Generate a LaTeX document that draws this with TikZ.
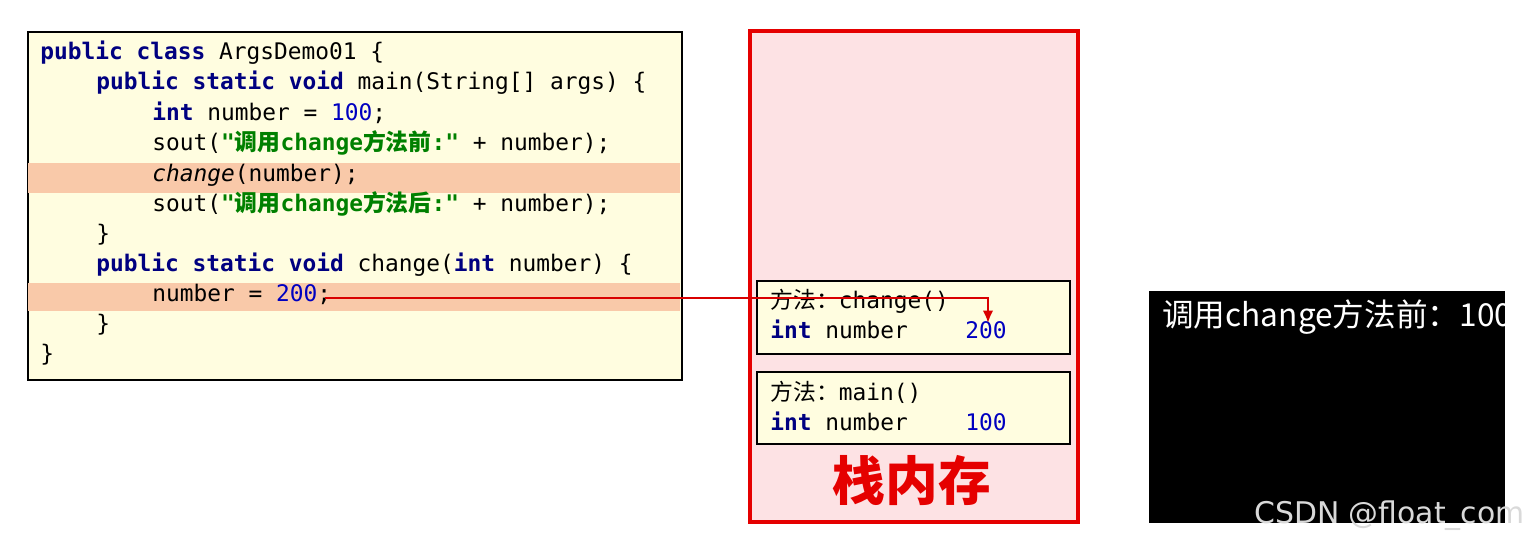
\documentclass[tikz,border=0pt]{standalone}
\usepackage{fontspec}
\usetikzlibrary{arrows.meta}
\newfontfamily\code{DejaVu Sans Mono}
\newfontfamily\cjk{Noto Sans CJK SC}
\definecolor{kw}{HTML}{000080}
\definecolor{num}{HTML}{0000C0}
\definecolor{str}{HTML}{008000}
\definecolor{codebg}{HTML}{FFFDE0}
\definecolor{hl}{HTML}{F9C9A9}
\definecolor{stackbg}{HTML}{FDE2E4}
\newcommand{\kw}[1]{\textcolor{kw}{\bfseries #1}}
\newcommand{\nm}[1]{\textcolor{num}{#1}}
\newcommand{\st}[1]{\textcolor{str}{\bfseries #1}}
\begin{document}
\begin{tikzpicture}[x=0.02cm,y=-0.02cm,
  ln/.style={anchor=base west,inner sep=0pt,font=\code\fontsize{13}{15}\selectfont},
  fr/.style={draw=black,line width=1pt,fill=codebg}]
\useasboundingbox (0,0) rectangle (1530,543);
% code box
\node[fr,minimum width=654*0.02cm,minimum height=348*0.02cm,anchor=north west,inner sep=0pt] (codebox) at (27,31) {};
\fill[hl] (28,163) rectangle (680,193);
\fill[hl] (28,283) rectangle (680,311);
\node[ln] (l1) at (40,60) {\kw{public} \kw{class} ArgsDemo01 \{};
\node[ln] (l2) at (96,90) {\kw{public} \kw{static} \kw{void} main(String[] args) \{};
\node[ln] (l3) at (152,121) {\kw{int} number = \nm{100};};
\node[ln] (l4) at (152,151) {sout(\st{"{\cjk 调用}change{\cjk 方法前}:"} + number);};
\node[ln] (l5) at (152,182) {\textit{change}(number);};
\node[ln] (l6) at (152,212) {sout(\st{"{\cjk 调用}change{\cjk 方法后}:"} + number);};
\node[ln] (l7) at (96,242) {\}};
\node[ln] (l8) at (96,272) {\kw{public} \kw{static} \kw{void} change(\kw{int} number) \{};
\node[ln] (l9) at (152,302) {number = \nm{200};};
\node[ln] (l10) at (96,332) {\}};
\node[ln] (l11) at (40,362) {\}};
% stack
\node[draw=red!90!black,line width=2.5pt,fill=stackbg,anchor=north west,inner sep=0pt,minimum width=328*0.02cm,minimum height=491*0.02cm] (stack) at (748,29) {};
\node[fr,anchor=north west,inner sep=0pt,minimum width=313*0.02cm,minimum height=73*0.02cm] (fchange) at (756,280) {};
\node[fr,anchor=north west,inner sep=0pt,minimum width=313*0.02cm,minimum height=72*0.02cm] (fmain) at (756,371) {};
\node[ln] (c1) at (770,309) {{\cjk 方法：}change()};
\node[ln] (c2) at (770,339) {\kw{int} number};
\node[ln] (c3) at (965,339) {\nm{200}};
\node[ln] (m1) at (770,400) {{\cjk 方法：}main()};
\node[ln] (m2) at (770,430) {\kw{int} number};
\node[ln] (m3) at (965,430) {\nm{100}};
\node[text=red!90!black,font=\cjk\bfseries\fontsize{30}{34}\selectfont] (lbl) at (912,480) {栈内存};
% arrow
\coordinate (from) at (325,298);
\coordinate (to) at (988,323);
\draw[red!85!black,line width=1.3pt,-{Latex[length=7pt,width=6pt]}] (from) -| (to);
% terminal
\node[fill=black,anchor=north west,inner sep=0pt,minimum width=356*0.02cm,minimum height=232*0.02cm] (term) at (1149,291) {};
\node[anchor=west,text=white,inner sep=0pt,font=\cjk\fontsize{18}{20}\selectfont] (out) at (1162,317) {调用change方法前：100};
\node[anchor=east,text=gray!30,inner sep=0pt,font=\fontspec{DejaVu Sans}\fontsize{17}{19}\selectfont] (wm) at (1525,516) {CSDN @float\_com};
\end{tikzpicture}
\end{document}
